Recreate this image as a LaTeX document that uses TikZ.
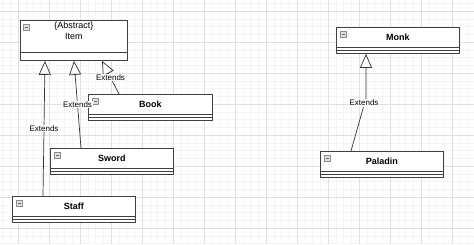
\documentclass[tikz,border=0pt]{standalone}
\usepackage{fontspec}
\setmainfont{Liberation Sans}
\usetikzlibrary{arrows.meta,calc}
\tikzset{
  classbox/.style={draw=black!75, line width=0.9pt, fill=white, inner sep=0pt, anchor=north west},
  sepline/.style={draw=black!75, line width=0.8pt},
  classname/.style={font=\fontsize{9}{11}\selectfont\bfseries, inner sep=0pt},
  plainname/.style={font=\fontsize{9}{10.5}\selectfont, inner sep=0pt, align=center},
  iconbox/.style={draw=black!45, fill=black!12, line width=0.4pt, minimum size=6pt, inner sep=0pt, anchor=north west},
  extends/.style={draw=black!80, line width=0.7pt, -{Triangle[open,length=14pt,width=12pt,line width=0.7pt]}},
  extlabel/.style={font=\fontsize{8}{9}\selectfont, fill=white, inner sep=0.8pt},
  minorgrid/.style={draw=black!4, line width=0.4pt},
  majorgrid/.style={draw=black!12, line width=0.5pt}
}
\newcommand{\umlclass}[6]{%
  \node[classbox, minimum width=#4pt, minimum height=#5pt+6pt] (#1) at (#2,#3) {};
  \draw[sepline] ($(#1.north west)+(0,#5)$) -- ($(#1.north east)+(0,#5)$);
  \draw[sepline] ($(#1.north west)+(0,#5+3)$) -- ($(#1.north east)+(0,#5+3)$);
  \node[classname] (#1-t) at ($(#1.north)+(0,#5/2)$) {#6};
  \node[iconbox] (#1-i) at ($(#1.north west)+(4,4)$) {};
  \draw[black!60, line width=0.5pt] ($(#1-i.west)+(1.5,0)$) -- ($(#1-i.east)+(-1.5,0)$);
}
\begin{document}
\begin{tikzpicture}[x=1pt,y=-1pt]
\useasboundingbox (0,0) rectangle (474,244);
\fill[white] (0,0) rectangle (474,244);
% grid
\foreach \k in {0,...,60} { \draw[minorgrid] ({2.5+7.75*\k},0) -- ({2.5+7.75*\k},244); }
\foreach \k in {0,...,31} { \draw[minorgrid] (0,{3.25+7.75*\k}) -- (474,{3.25+7.75*\k}); }
\foreach \k in {0,...,14} { \draw[majorgrid] ({18+31*\k},0) -- ({18+31*\k},244); }
\foreach \k in {0,...,7} { \draw[majorgrid] (0,{11+31*\k}) -- (474,{11+31*\k}); }

% Item (abstract)
\node[classbox, minimum width=107pt, minimum height=40pt] (item) at (20,20) {};
\draw[sepline] ($(item.north west)+(0,32)$) -- ($(item.north east)+(0,32)$);
\node[plainname] (item-t) at ($(item.north)+(0,11)$) {\{Abstract\}\\Item};
\node[iconbox] (item-i) at ($(item.north west)+(3,4)$) {};
\draw[black!60, line width=0.5pt] ($(item-i.west)+(1.5,0)$) -- ($(item-i.east)+(-1.5,0)$);

\umlclass{book}{88}{94}{124}{20}{Book}
\umlclass{sword}{50}{148}{123}{20}{Sword}
\umlclass{staff}{12}{196}{123}{20}{Staff}
\umlclass{monk}{336}{27}{123}{20}{Monk}
\umlclass{paladin}{320}{151}{123}{20}{Paladin}

% generalisations
\draw[extends] ([xshift=31pt]staff.north west) -- node[extlabel, pos=0.5] {Extends} ([xshift=25pt]item.south west);
\draw[extends] ([xshift=31pt]sword.north west) -- node[extlabel, pos=0.5] {Extends} ([xshift=54pt]item.south west);
\draw[extends] ([xshift=31pt]book.north west) -- node[extlabel, pos=0.5] {Extends} ([xshift=82pt]item.south west);
\coordinate (bend) at ([xshift=30pt, yshift=-44pt]monk.south west);
\draw[extends] ([xshift=31pt]paladin.north west) -- (bend) -- ([xshift=30pt]monk.south west);
\node[extlabel] (monk-l) at ([xshift=-2pt, yshift=-5pt]bend) {Extends};
\end{tikzpicture}
\end{document}
